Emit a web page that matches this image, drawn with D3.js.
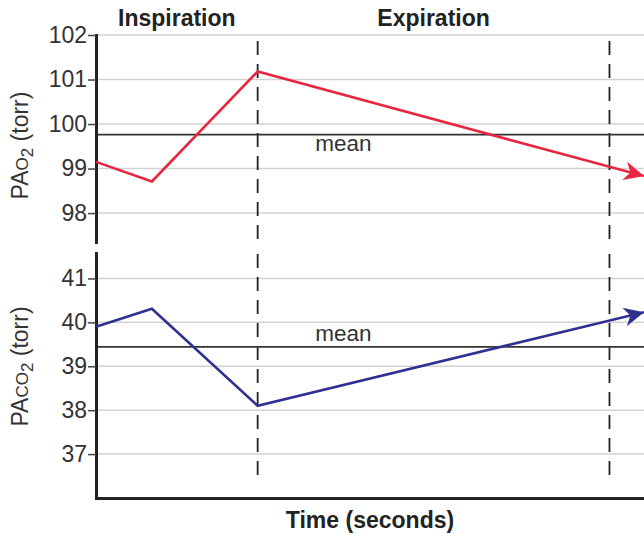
<!DOCTYPE html>
<html>
<head>
<meta charset="utf-8">
<script src="https://cdn.jsdelivr.net/npm/d3@7"></script>
<style>
  body { margin: 0; background: #fff; }
  svg text { font-family: Arial, "Liberation Sans", Helvetica, sans-serif; }
</style>
</head>
<body>
<script>
// 时间 (任意单位, 轴上无刻度)
const times = [0, 1.02, 2.95, 10]
const timeRange = [0, 10]
const phaseBounds = [0, 2.95, 9.37]
const phaseNames = ['Inspiration', 'Expiration']

// PAO2
const o2Values = [99.15, 98.71, 101.18, 98.83]
const o2Mean = 99.76
const o2Ticks = [98, 99, 100, 101, 102]
const o2Domain = [97.35, 102]

// PACO2
const co2Values = [39.9, 40.31, 38.1, 40.23]
const co2Mean = 39.44
const co2Ticks = [37, 38, 39, 40, 41]
const co2Domain = [36, 41.58]

const W = 644
const H = 536

const svg = d3.select('body')
  .append('svg')
  .attr('width', W)
  .attr('height', H)

svg.append('rect')
  .attr('width', W)
  .attr('height', H)
  .attr('fill', '#fff')

// 箭头
const defs = svg.append('defs')
const arrow = (id, color) => {
  defs.append('marker')
    .attr('id', id)
    .attr('markerUnits', 'userSpaceOnUse')
    .attr('viewBox', '-22 -11 24 22')
    .attr('markerWidth', 24)
    .attr('markerHeight', 22)
    .attr('refX', 0)
    .attr('refY', 0)
    .attr('orient', 'auto')
    .append('path')
    .attr('d', 'M0,0L-20,-9.5L-14,0L-20,9.5Z')
    .attr('fill', color)
}
arrow('arrowRed', '#e8263f')
arrow('arrowBlue', '#2e3192')

const xScale = d3.scaleLinear()
  .domain(timeRange)
  .range([96, 644])

const yO2 = d3.scaleLinear()
  .domain(o2Domain)
  .range([242, 35])

const yCO2 = d3.scaleLinear()
  .domain(co2Domain)
  .range([498, 253])

function drawPanel(yScale, ticks, values, mean, color, markerId, dashTop, dashBottom, meanDy) {
  const g = svg.append('g')

  // 网格线
  g.selectAll('.grid')
    .data(ticks)
    .enter()
    .append('line')
    .attr('class', 'grid')
    .attr('x1', xScale(timeRange[0]))
    .attr('x2', xScale(timeRange[1]))
    .attr('y1', d => yScale(d))
    .attr('y2', d => yScale(d))
    .attr('stroke', '#d2d2d2')
    .attr('stroke-width', 1.5)

  // 相位分界虚线
  g.selectAll('.phase')
    .data(phaseBounds.slice(1))
    .enter()
    .append('line')
    .attr('class', 'phase')
    .attr('x1', d => xScale(d))
    .attr('x2', d => xScale(d))
    .attr('y1', dashTop)
    .attr('y2', dashBottom)
    .attr('stroke', '#222')
    .attr('stroke-width', 1.8)
    .attr('stroke-dasharray', '14,9')

  // 均值线
  g.append('line')
    .attr('x1', xScale(timeRange[0]))
    .attr('x2', xScale(timeRange[1]))
    .attr('y1', yScale(mean))
    .attr('y2', yScale(mean))
    .attr('stroke', '#333')
    .attr('stroke-width', 1.8)

  g.append('text')
    .attr('x', xScale(4))
    .attr('y', yScale(mean) + meanDy)
    .attr('font-size', 22.5)
    .attr('fill', '#333')
    .text('mean')

  // y轴
  const yAxis = g.append('g')
    .attr('transform', `translate(${xScale(timeRange[0])},0)`)
    .call(d3.axisLeft(yScale)
      .tickValues(ticks)
      .tickSize(8)
      .tickPadding(1)
      .tickSizeOuter(0)
      .tickFormat(d => d))
  yAxis.select('.domain')
    .attr('stroke', '#222')
    .attr('stroke-width', 3)
    .attr('stroke-linecap', 'square')
  yAxis.selectAll('.tick line')
    .attr('stroke', '#444')
    .attr('stroke-width', 1.5)
  yAxis.selectAll('.tick text')
    .attr('font-size', 23)
    .attr('font-family', 'Arial, "Liberation Sans", sans-serif')
    .attr('fill', '#333')

  // 数据线
  const line = d3.line()
    .x((d, i) => xScale(times[i]))
    .y(d => yScale(d))

  g.append('path')
    .datum(values)
    .attr('d', line)
    .attr('fill', 'none')
    .attr('stroke', color)
    .attr('stroke-width', 2.6)
    .attr('stroke-linejoin', 'miter')
    .attr('marker-end', `url(#${markerId})`)

  return g
}

drawPanel(yO2, o2Ticks, o2Values, o2Mean, '#e8263f', 'arrowRed', 41, 242, 16.5)
const bottom = drawPanel(yCO2, co2Ticks, co2Values, co2Mean, '#2e3192', 'arrowBlue', 254, 477, -6)

// x轴 (只画轴线)
const xAxis = bottom.append('g')
  .attr('transform', `translate(0,${yCO2(co2Domain[0])})`)
  .call(d3.axisBottom(xScale).ticks(0).tickSizeOuter(0))
xAxis.select('.domain')
  .attr('stroke', '#222')
  .attr('stroke-width', 3)
  .attr('stroke-linecap', 'square')

// 相位标题
svg.selectAll('.phaseLabel')
  .data(phaseNames)
  .enter()
  .append('text')
  .attr('class', 'phaseLabel')
  .attr('x', (d, i) => xScale((phaseBounds[i] + phaseBounds[i + 1]) / 2))
  .attr('y', 26)
  .attr('text-anchor', 'middle')
  .attr('font-size', 23)
  .attr('font-weight', 'bold')
  .attr('fill', '#222')
  .text(d => d)

// x轴标题
svg.append('text')
  .attr('x', (xScale.range()[0] + xScale.range()[1]) / 2)
  .attr('y', 528)
  .attr('text-anchor', 'middle')
  .attr('font-size', 23)
  .attr('font-weight', 'bold')
  .attr('fill', '#222')
  .text('Time (seconds)')

// y轴标题 (带下标)
function yLabel(cy, gas) {
  const t = svg.append('text')
    .attr('transform', `translate(28,${cy}) rotate(-90)`)
    .attr('text-anchor', 'middle')
    .attr('font-size', 23)
    .attr('fill', '#333')
  t.append('tspan').text('PA')
  t.append('tspan').attr('font-size', 17).text(gas)
  t.append('tspan').attr('font-size', 17).attr('dy', 5).text('2')
  t.append('tspan').attr('dy', -5).text(' (torr)')
}
yLabel(145.5, 'O')
yLabel(366.5, 'CO')
</script>
</body>
</html>
